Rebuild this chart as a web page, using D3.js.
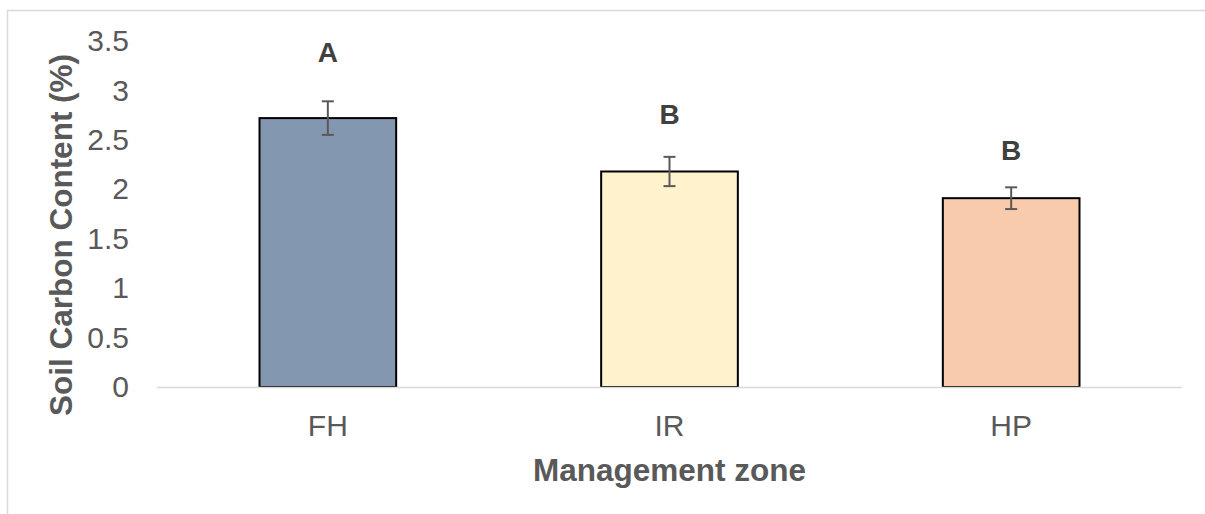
<!DOCTYPE html>
<html>
<head>
<meta charset="utf-8">
<script src="https://cdn.jsdelivr.net/npm/d3@7"></script>
<style>
  body { margin: 0; background: #fff; }
  text { font-family: "Liberation Sans", Arial, sans-serif; }
</style>
</head>
<body>
<div id="chart"></div>
<script>
// chart data
const zones = ["FH", "IR", "HP"];
const carbon = [2.72, 2.18, 1.91];
const stdErr = [0.17, 0.148, 0.11];
const letters = ["A", "B", "B"];
const letterPos = [3.39, 2.76, 2.40];   // value where each letter sits
const barColors = ["#8497B0", "#FFF2CC", "#F8CBAD"];
const yTicks = [0, 0.5, 1, 1.5, 2, 2.5, 3, 3.5];

const W = 1205, H = 514;
const svg = d3.select("#chart").append("svg")
    .attr("width", W)
    .attr("height", H);

// outer chart border
svg.append("rect")
    .attr("x", 7.5).attr("y", 10.5)
    .attr("width", W).attr("height", H)
    .attr("fill", "none")
    .attr("stroke", "#d9d9d9")
    .attr("stroke-width", 1.5);

const plot = { left: 157, right: 1182, top: 41, bottom: 387 };

const x = d3.scaleBand()
    .domain(zones)
    .range([plot.left, plot.right])
    .padding(0);

const y = d3.scaleLinear()
    .domain([0, 3.5])
    .range([plot.bottom, plot.top]);

const barW = x.bandwidth() * 0.4;

// y axis labels (no line)
const yAxis = svg.append("g")
    .attr("transform", "translate(129,0)")
    .call(d3.axisLeft(y).tickValues(yTicks).tickSize(0).tickPadding(0).tickFormat(d3.format("")));
yAxis.select(".domain").remove();
yAxis.selectAll("text")
    .style("font-size", "30px")
    .style("fill", "#595959");

// bars
svg.selectAll(".bar")
    .data(zones)
    .enter().append("rect")
    .attr("class", "bar")
    .attr("x", d => x(d) + (x.bandwidth() - barW) / 2)
    .attr("y", (d, i) => y(carbon[i]))
    .attr("width", barW)
    .attr("height", (d, i) => y(0) - y(carbon[i]))
    .attr("fill", (d, i) => barColors[i])
    .attr("stroke", "#000")
    .attr("stroke-width", 2);

// x axis line
svg.append("line")
    .attr("x1", plot.left).attr("x2", plot.right)
    .attr("y1", y(0) + 0.5).attr("y2", y(0) + 0.5)
    .attr("stroke", "#d9d9d9")
    .attr("stroke-width", 1.5);

// error bars
const err = svg.selectAll(".err")
    .data(zones)
    .enter().append("g")
    .attr("class", "err")
    .attr("stroke", "#595959")
    .attr("stroke-width", 2);

err.append("line")
    .attr("x1", d => x(d) + x.bandwidth() / 2)
    .attr("x2", d => x(d) + x.bandwidth() / 2)
    .attr("y1", (d, i) => y(carbon[i] + stdErr[i]))
    .attr("y2", (d, i) => y(carbon[i] - stdErr[i]));

[1, -1].forEach(s => {
    err.append("line")
        .attr("x1", d => x(d) + x.bandwidth() / 2 - 6)
        .attr("x2", d => x(d) + x.bandwidth() / 2 + 6)
        .attr("y1", (d, i) => y(carbon[i] + s * stdErr[i]))
        .attr("y2", (d, i) => y(carbon[i] + s * stdErr[i]));
});

// significance letters
svg.selectAll(".letter")
    .data(zones)
    .enter().append("text")
    .attr("class", "letter")
    .attr("x", d => x(d) + x.bandwidth() / 2)
    .attr("y", (d, i) => y(letterPos[i]))
    .attr("dy", "0.35em")
    .attr("text-anchor", "middle")
    .style("font-size", "28px")
    .style("font-weight", "bold")
    .style("fill", "#404040")
    .text((d, i) => letters[i]);

// category labels
svg.selectAll(".cat")
    .data(zones)
    .enter().append("text")
    .attr("class", "cat")
    .attr("x", d => x(d) + x.bandwidth() / 2)
    .attr("y", 436)
    .attr("text-anchor", "middle")
    .style("font-size", "30px")
    .style("fill", "#595959")
    .text(d => d);

// axis titles
svg.append("text")
    .attr("x", (plot.left + plot.right) / 2)
    .attr("y", 481)
    .attr("text-anchor", "middle")
    .style("font-size", "31.5px")
    .style("font-weight", "bold")
    .style("fill", "#595959")
    .text("Management zone");

svg.append("text")
    .attr("transform", "translate(72,235) rotate(-90)")
    .attr("text-anchor", "middle")
    .style("font-size", "31.5px")
    .style("font-weight", "bold")
    .style("fill", "#595959")
    .text("Soil Carbon Content (%)");
</script>
</body>
</html>
